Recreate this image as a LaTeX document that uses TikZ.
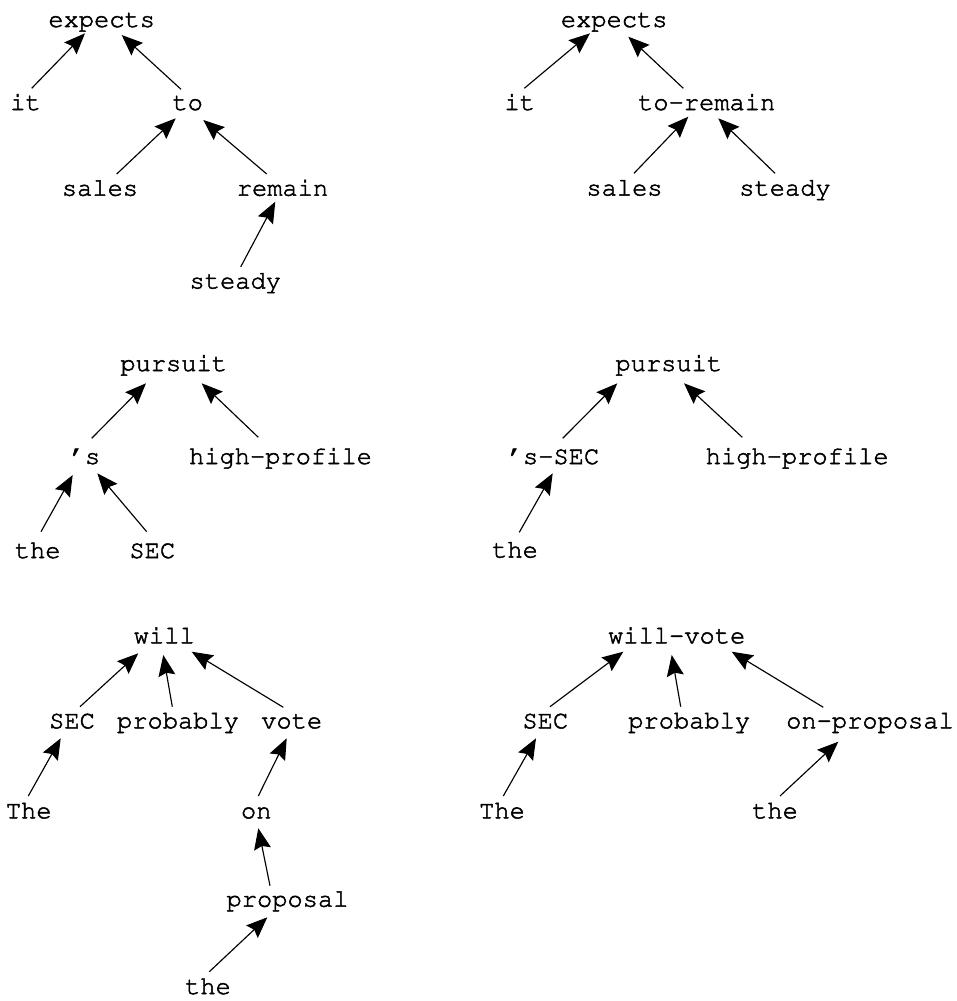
\documentclass[tikz,border=0pt]{standalone}
\usepackage[T1]{fontenc}
\usepackage{courier}
\usetikzlibrary{arrows.meta}
\newcommand{\conn}[6]{\draw[arr] ([shift={(#2,#3)}]#1.base) -- ([shift={(#5,#6)}]#4.base);}
\begin{document}
\begin{tikzpicture}[x=1pt,y=-1pt,
  word/.style={anchor=base,inner sep=0pt,font=\ttfamily\fontsize{25.4}{30}\selectfont,execute at begin node=\special{pdf:literal direct 2 Tr 0.5 w},execute at end node=\special{pdf:literal direct 0 Tr}},
  arr/.style={line width=1.15pt,-{Stealth[length=21pt,width=17pt,inset=3pt]}}]
\useasboundingbox (0,0) rectangle (956,1001);
% Tree 1
\node[word] (e1) at (101.7,27) {expects};
\node[word] (it1) at (25.5,110) {it};
\node[word] (to1) at (187.7,110) {to};
\node[word] (sa1) at (100,195.7) {sales};
\node[word] (re1) at (282.5,195.7) {remain};
\node[word] (st1) at (235.3,288.5) {steady};
\conn{it1}{6.2}{-21.7}{e1}{-16.7}{6.3}
\conn{to1}{-6.7}{-20.7}{e1}{20}{8}
\conn{sa1}{16.7}{-21.7}{to1}{-12}{8.3}
\conn{re1}{-15.8}{-21.7}{to1}{15.6}{10}
\conn{st1}{5.4}{-21.6}{re1}{-7.2}{6}
% Tree 2
\node[word] (e2) at (614.2,27) {expects};
\node[word] (it2) at (519.7,110) {it};
\node[word] (tr2) at (706.7,110) {to-remain};
\node[word] (sa2) at (624.5,195.5) {sales};
\node[word] (st2) at (785,195.5) {steady};
\conn{it2}{4.6}{-21.7}{e2}{-24.2}{6.3}
\conn{tr2}{-23.4}{-21.7}{e2}{14.1}{9.7}
\conn{sa2}{9.5}{-22.2}{tr2}{-18.4}{6.7}
\conn{st2}{-10}{-22.2}{tr2}{11.6}{8.3}
% Tree 3
\node[word] (pu3) at (173.7,371) {pursuit};
\node[word] (s3) at (85,464) {'s};
\node[word] (hp3) at (280.5,464) {high-profile};
\node[word] (th3) at (37.7,558) {the};
\node[word] (se3) at (152.3,558) {SEC};
\conn{s3}{6.7}{-25.7}{pu3}{-27.7}{12.3}
\conn{hp3}{-22.2}{-26.7}{pu3}{28}{12.3}
\conn{th3}{3.3}{-26.3}{s3}{-12.3}{11}
\conn{se3}{-5.6}{-26.3}{s3}{12.3}{9.3}
% Tree 4
\node[word] (pu4) at (668.8,371) {pursuit};
\node[word] (ss4) at (553.5,464) {'s-SEC};
\node[word] (hp4) at (797.2,464) {high-profile};
\node[word] (th4) at (515,557.5) {the};
\conn{ss4}{9.2}{-25.7}{pu4}{-51.5}{12.3}
\conn{hp4}{-54.9}{-26.7}{pu4}{15.2}{12.3}
\conn{th4}{4.3}{-25.2}{ss4}{-0.8}{9.3}
% Tree 5
\node[word] (wi5) at (164.2,643.3) {will};
\node[word] (se5) at (72,728.3) {SEC};
\node[word] (pr5) at (178,728.3) {probably};
\node[word] (vo5) at (291.7,728.3) {vote};
\node[word] (Th5) at (28.7,818.3) {The};
\node[word] (on5) at (256.2,818.3) {on};
\node[word] (po5) at (287.5,906.7) {proposal};
\node[word] (th5) at (208,994) {the};
\conn{se5}{8}{-21.6}{wi5}{-25.9}{10}
\conn{pr5}{-5.7}{-21.6}{wi5}{-0.9}{11.7}
\conn{vo5}{-8.4}{-21}{wi5}{27.5}{8.4}
\conn{Th5}{-0.4}{-22.3}{se5}{-11.3}{10}
\conn{on5}{2.1}{-22.3}{vo5}{-5}{10}
\conn{po5}{-17.5}{-21}{on5}{2.1}{10}
\conn{th5}{1.3}{-22.3}{po5}{-20.2}{10.6}
% Tree 6
\node[word] (wv6) at (676.7,643.3) {will-vote};
\node[word] (se6) at (545.3,728.3) {SEC};
\node[word] (pr6) at (689.2,728.3) {probably};
\node[word] (op6) at (870,728.3) {on-proposal};
\node[word] (Th6) at (502,818.3) {The};
\node[word] (th6) at (775,818.3) {the};
\conn{se6}{4.7}{-21.6}{wv6}{-53.4}{8.4}
\conn{pr6}{-8.5}{-21.6}{wv6}{-5}{11.7}
\conn{op6}{-46.7}{-21}{wv6}{55}{8.4}
\conn{Th6}{1.3}{-22.3}{se6}{-9.3}{10}
\conn{th6}{5}{-22.3}{op6}{-31.7}{13.4}
\end{tikzpicture}
\end{document}
